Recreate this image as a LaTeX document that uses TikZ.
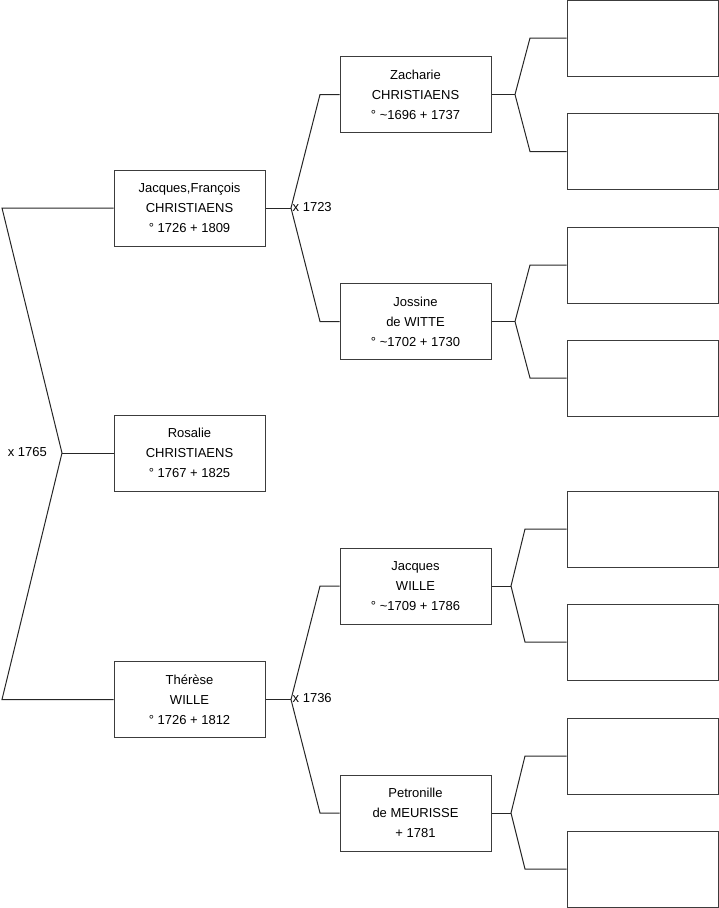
\documentclass[tikz,border=0pt]{standalone}
\usepackage{fontspec}
\setmainfont{Liberation Sans}
\definecolor{boxline}{HTML}{3C3C3C}
\begin{document}
\begin{tikzpicture}[x=1pt,y=-1pt,
  person/.style={draw=boxline,line width=1pt,minimum width=151pt,minimum height=76pt,inner sep=0pt,align=center,
    font=\fontsize{13pt}{20pt}\selectfont},
  empty/.style={draw=boxline,line width=1pt,minimum width=151pt,minimum height=76pt,inner sep=0pt},
  link/.style={draw=black!85,line width=1pt},
  mar/.style={inner sep=0pt,font=\fontsize{13pt}{15pt}\selectfont}]
\useasboundingbox (0,0) rectangle (719,908);
% generation 1
\node[person] (jf) at (189.5,208) {Jacques,François\\CHRISTIAENS\\° 1726 + 1809};
\node[person] (ro) at (189.5,453) {Rosalie\\CHRISTIAENS\\° 1767 + 1825};
\node[person] (th) at (189.5,699.5) {Thérèse\\WILLE\\° 1726 + 1812};
% generation 2
\node[person] (za) at (415.5,94.5) {Zacharie\\CHRISTIAENS\\° \textasciitilde1696 + 1737};
\node[person] (jo) at (415.5,321.5) {Jossine\\de WITTE\\° \textasciitilde1702 + 1730};
\node[person] (jw) at (415.5,586) {Jacques\\WILLE\\° \textasciitilde1709 + 1786};
\node[person] (pe) at (415.5,813) {Petronille\\de MEURISSE\\+ 1781};
% generation 3
\node[empty] (e1) at (642.5,38) {};
\node[empty] (e2) at (642.5,151.5) {};
\node[empty] (e3) at (642.5,265) {};
\node[empty] (e4) at (642.5,378) {};
\node[empty] (e5) at (642.5,529) {};
\node[empty] (e6) at (642.5,642) {};
\node[empty] (e7) at (642.5,756) {};
\node[empty] (e8) at (642.5,869) {};
% fork points
\coordinate (f0) at (62,453);
\coordinate (f0a) at (2,208);
\coordinate (f0b) at (2,699.5);
\coordinate (f1) at (291,208);
\coordinate (f1a) at (320,94.5);
\coordinate (f1b) at (320,321.5);
\coordinate (f2) at (291,699.5);
\coordinate (f2a) at (320,586);
\coordinate (f2b) at (320,813);
\coordinate (fz) at (515,94.5);
\coordinate (fza) at (530,38);
\coordinate (fzb) at (530,151.5);
\coordinate (fj) at (515,321.5);
\coordinate (fja) at (530,265);
\coordinate (fjb) at (530,378);
\coordinate (fw) at (511,586);
\coordinate (fwa) at (525,529);
\coordinate (fwb) at (525,642);
\coordinate (fp) at (511,813);
\coordinate (fpa) at (525,756);
\coordinate (fpb) at (525,869);
% connectors
\draw[link] (jf.west) -- (f0a) -- (f0) -- (f0b) -- (th.west);
\draw[link] (f0) -- (ro.west);
\draw[link] (jf.east) -- (f1);
\draw[link] (za.west) -- (f1a) -- (f1) -- (f1b) -- (jo.west);
\draw[link] (th.east) -- (f2);
\draw[link] (jw.west) -- (f2a) -- (f2) -- (f2b) -- (pe.west);
\draw[link] (za.east) -- (fz);
\draw[link] (e1.west) -- (fza) -- (fz) -- (fzb) -- (e2.west);
\draw[link] (jo.east) -- (fj);
\draw[link] (e3.west) -- (fja) -- (fj) -- (fjb) -- (e4.west);
\draw[link] (jw.east) -- (fw);
\draw[link] (e5.west) -- (fwa) -- (fw) -- (fwb) -- (e6.west);
\draw[link] (pe.east) -- (fp);
\draw[link] (e7.west) -- (fpa) -- (fp) -- (fpb) -- (e8.west);
% marriage labels
\node[mar,anchor=east] (m0) at (47,452) {x 1765};
\node[mar,anchor=west] (m1) at (292.5,207) {x 1723};
\node[mar,anchor=west] (m2) at (292.5,698) {x 1736};
\end{tikzpicture}
\end{document}
